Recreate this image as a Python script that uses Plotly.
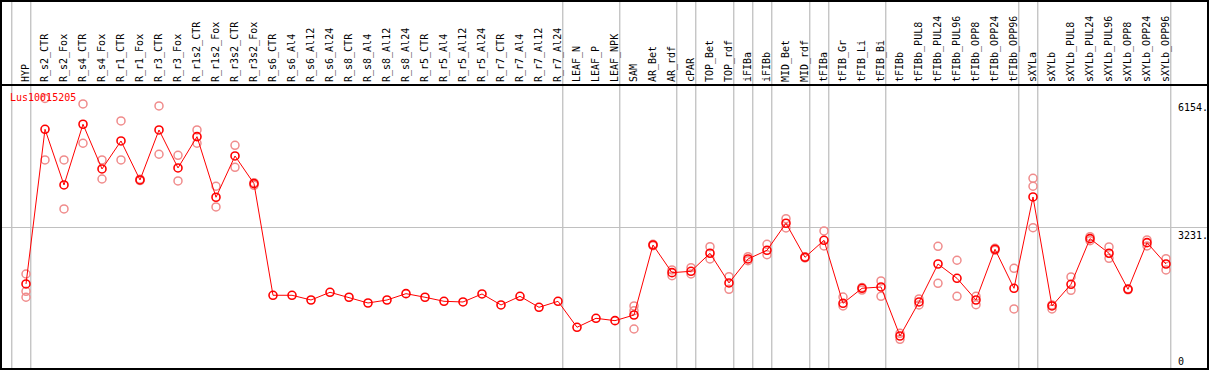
import plotly.graph_objects as go

categories = ["HYP", "R_s2_CTR", "R_s2_Fox", "R_s4_CTR", "R_s4_Fox", "R_r1_CTR", "R_r1_Fox",
              "R_r3_CTR", "R_r3_Fox", "R_r1s2_CTR", "R_r1s2_Fox", "R_r3s2_CTR", "R_r3s2_Fox",
              "R_s6_CTR", "R_s6_Al4", "R_s6_Al12", "R_s6_Al24", "R_s8_CTR", "R_s8_Al4", "R_s8_Al12",
              "R_s8_Al24", "R_r5_CTR", "R_r5_Al4", "R_r5_Al12", "R_r5_Al24", "R_r7_CTR", "R_r7_Al4",
              "R_r7_Al12", "R_r7_Al24", "LEAF_N", "LEAF_P", "LEAF_NPK", "SAM", "AR_Bet", "AR_rdf",
              "cPAR", "TOP_Bet", "TOP_rdf", "iFIBa", "iFIBb", "MID_Bet", "MID_rdf", "tFIBa",
              "tFIB_Gr", "tFIB_Li", "tFIB_Bi", "tFIBb", "tFIBb_PUL8", "tFIBb_PUL24", "tFIBb_PUL96",
              "tFIBb_OPP8", "tFIBb_OPP24", "tFIBb_OPP96", "sXYLa", "sXYLb", "sXYLb_PUL8",
              "sXYLb_PUL24", "sXYLb_PUL96", "sXYLb_OPP8", "sXYLb_OPP24", "sXYLb_OPP96"]

mean_values = [1939, 5455, 4189, 5569, 4553, 5189, 4303, 5439, 4576, 5287, 3910, 4848, 4219,
               1682, 1682, 1575, 1750, 1637, 1507, 1575, 1719, 1637, 1545, 1530, 1712, 1462, 1659,
               1409, 1545, 955, 1159, 1105, 1234, 2825, 2196, 2227, 2637, 1962, 2507, 2705, 3319,
               2546, 2932, 1500, 1841, 1871, 757, 1530, 2393, 2068, 1575, 2728, 1841, 3916, 1439,
               1932, 2969, 2637, 1818, 2878, 2393]

N = None
rep1 = [2166, 6154, 4757, 6030, 4757, 5644, 4320, 5985, 4864, 5439, 4160, 5091, 4241,
        N, N, N, N, N, N, N, N, N, N, N, N, N, N, N, N, N, N, N,
        1439, 2840, 2257, 2309, 2787, 2105, 2560, 2841, 3423, 2560, 3144, 1643, 1860, 2007, 818,
        1598, 2796, 2478, 1659, 2750, 2296, 4341, 1462, 2098, 3014, 2780, 1830, 2939, 2514]
rep2 = [1773, 4757, 3644, 5137, 4325, 4757, 4290, 4887, 4280, 5137, 3689, 4591, 4182,
        N, N, N, N, N, N, N, N, N, N, N, N, N, N, N, N, N, N, N,
        1332, 2810, 2128, 2166, 2507, 1818, 2469, 2605, 3212, 2530, 2803, 1439, 1800, 1659, 682,
        1462, 1955, 1659, 1468, 2705, 1371, 4160, 1371, 1796, 2923, 2523, 1805, 2803, 2257]
rep3 = [1637, N, N, N, N, N, N, N, N, N, N, N, N,
        N, N, N, N, N, N, N, N, N, N, N, N, N, N, N, N, N, N, N,
        916, N, N, N, N, N, N, N, N, N, N, N, N, N, N,
        N, N, N, N, N, N, 3219, N, N, N, N, N, N, N]

# indices of last category in each group (separator drawn just after)
group_ends = [-1, 0, 28, 31, 34, 35, 37, 38, 39, 41, 42, 45, 52, 53, 60]

y_label_values = [6154, 3231, 0]
y_label_texts = ["6154.", "3231.", "0"]
title_text = "Lus10015205"

W, H = 1209, 370
TOP = 85
MONO = "DejaVu Sans Mono"

xs = list(range(len(categories)))
fig = go.Figure()

rep_color = "#f08c8c"
for rep in (rep1, rep2, rep3):
    fig.add_trace(go.Scatter(
        x=xs, y=rep, mode="markers",
        marker=dict(symbol="circle-open", size=8, color=rep_color, line=dict(width=1.5, color=rep_color)),
        hoverinfo="skip", showlegend=False))

fig.add_trace(go.Scatter(
    x=xs, y=mean_values, mode="lines+markers",
    line=dict(color="#ff0000", width=1),
    marker=dict(symbol="circle-open", size=8, color="#ff0000", line=dict(width=1.6, color="#ff0000")),
    showlegend=False))

x0 = -26 / 19
x1 = (W - 26) / 19
plot_h = H - TOP
ytop_paper = 1 + TOP / plot_h


def px(xp):
    return xp / W


def py(yp):
    return (H - yp) / plot_h


shapes = []
for g in group_ends:
    shapes.append(dict(type="line", xref="x", yref="paper", x0=g + 0.25, x1=g + 0.25,
                       y0=0, y1=ytop_paper, line=dict(color="#c0c0c0", width=1.3), layer="below"))

border = dict(color="black", width=2)
shapes += [
    dict(type="line", xref="paper", yref="paper", x0=px(1), x1=px(1), y0=py(369), y1=ytop_paper, line=border),
    dict(type="line", xref="paper", yref="paper", x0=px(1208), x1=px(1208), y0=py(369), y1=ytop_paper, line=border),
    dict(type="line", xref="paper", yref="paper", x0=0, x1=1, y0=py(1), y1=py(1), line=border),
    dict(type="line", xref="paper", yref="paper", x0=0, x1=1, y0=py(85), y1=py(85), line=border),
    dict(type="line", xref="paper", yref="paper", x0=0, x1=1, y0=py(369), y1=py(369), line=border),
]

annotations = [dict(text=title_text, xref="paper", yref="paper", x=px(8), y=py(97),
                    xanchor="left", yanchor="middle", showarrow=False,
                    font=dict(family=MONO, size=10, color="#ff0000"))]
for v, t in zip(y_label_values, y_label_texts):
    annotations.append(dict(text=t, xref="paper", yref="y", x=px(1176), y=v,
                            xanchor="left", yanchor="bottom" if v == 0 else "top",
                            yshift=-1 if v != 0 else 0,
                            showarrow=False, font=dict(family=MONO, size=10, color="black")))

fig.update_layout(
    width=W, height=H,
    margin=dict(l=0, r=0, t=TOP, b=0),
    paper_bgcolor="white", plot_bgcolor="white",
    xaxis=dict(range=[x0, x1], side="top", tickmode="array", tickvals=xs, ticktext=categories,
               tickangle=-90, showgrid=False, zeroline=False, showline=False, ticks="",
               ticklabelstandoff=2,
               tickfont=dict(family=MONO, size=10, color="black")),
    yaxis=dict(range=[-16, 6461], tickmode="array", tickvals=[3231], showticklabels=False,
               showgrid=True, gridcolor="#c0c0c0", gridwidth=1.3, zeroline=False, showline=False),
    shapes=shapes, annotations=annotations,
)

fig.write_html("out.html", config={"displayModeBar": False},
               post_script="document.body.style.margin='0';document.body.style.padding='0';")
